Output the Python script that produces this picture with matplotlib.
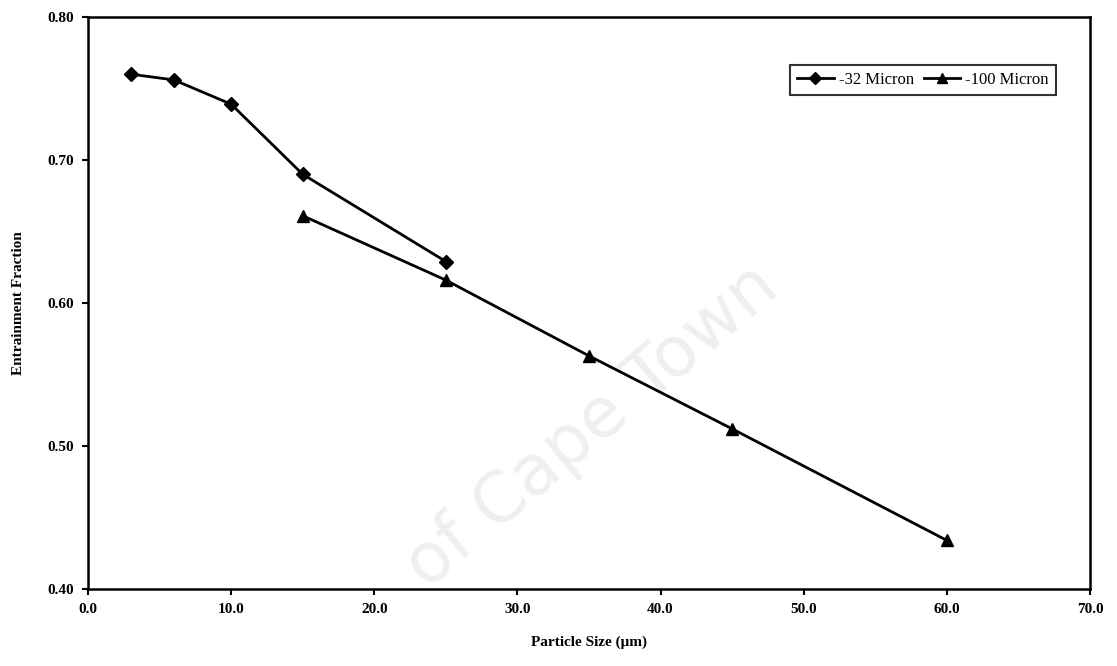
import matplotlib
matplotlib.use("Agg")
import matplotlib.pyplot as plt

x32 = [3.0, 6.0, 10.0, 15.0, 25.0]
y32 = [0.760, 0.756, 0.739, 0.690, 0.629]
x100 = [15.0, 25.0, 35.0, 45.0, 60.0]
y100 = [0.661, 0.616, 0.563, 0.512, 0.434]

xticks = [0, 10, 20, 30, 40, 50, 60, 70]
yticks = [0.40, 0.50, 0.60, 0.70, 0.80]

plt.rcParams['font.family'] = ['Liberation Serif', 'DejaVu Serif']

fig = plt.figure(figsize=(11.17, 6.66), dpi=100)
ax = fig.add_axes([0.0788, 0.1156, 0.8970, 0.8589])

ax.plot(x32, y32, color='black', lw=2, marker='D', ms=7.5, label='-32 Micron')
ax.plot(x100, y100, color='black', lw=2, marker='^', ms=9, label='-100 Micron')

ax.set_xlim(0, 70)
ax.set_ylim(0.40, 0.80)
ax.set_xticks(xticks)
ax.set_xticklabels([f"{v:.1f}" for v in xticks])
ax.set_yticks(yticks)
ax.set_yticklabels([f"{v:.2f}" for v in yticks])
for lab in ax.get_xticklabels() + ax.get_yticklabels():
    lab.set_fontweight('bold')
    lab.set_fontsize(11)
ax.tick_params(direction='out', length=4, width=1.5, pad=6)
for s in ax.spines.values():
    s.set_linewidth(1.8)

ax.set_xlabel('Particle Size (\u03bcm)', fontsize=11, fontweight='bold', labelpad=14)
ax.set_ylabel('Entrainment Fraction', fontsize=11, fontweight='bold', labelpad=16)

fig.text(0.53, 0.36, 'of Cape Town', fontsize=50,
         color='#efefef', rotation=40, ha='center', va='center', family='DejaVu Sans', zorder=0)

leg = ax.legend(loc='upper right', bbox_to_anchor=(0.974, 0.93), ncol=2, frameon=True,
                fancybox=False, edgecolor='black', fontsize=12, handlelength=2.2,
                columnspacing=0.6, handletextpad=0.3, borderpad=0.4, markerscale=0.8)
leg.get_frame().set_linewidth(1.5)
ax.set_zorder(1)
ax.patch.set_alpha(0)

fig.savefig('out.png', dpi=100)
